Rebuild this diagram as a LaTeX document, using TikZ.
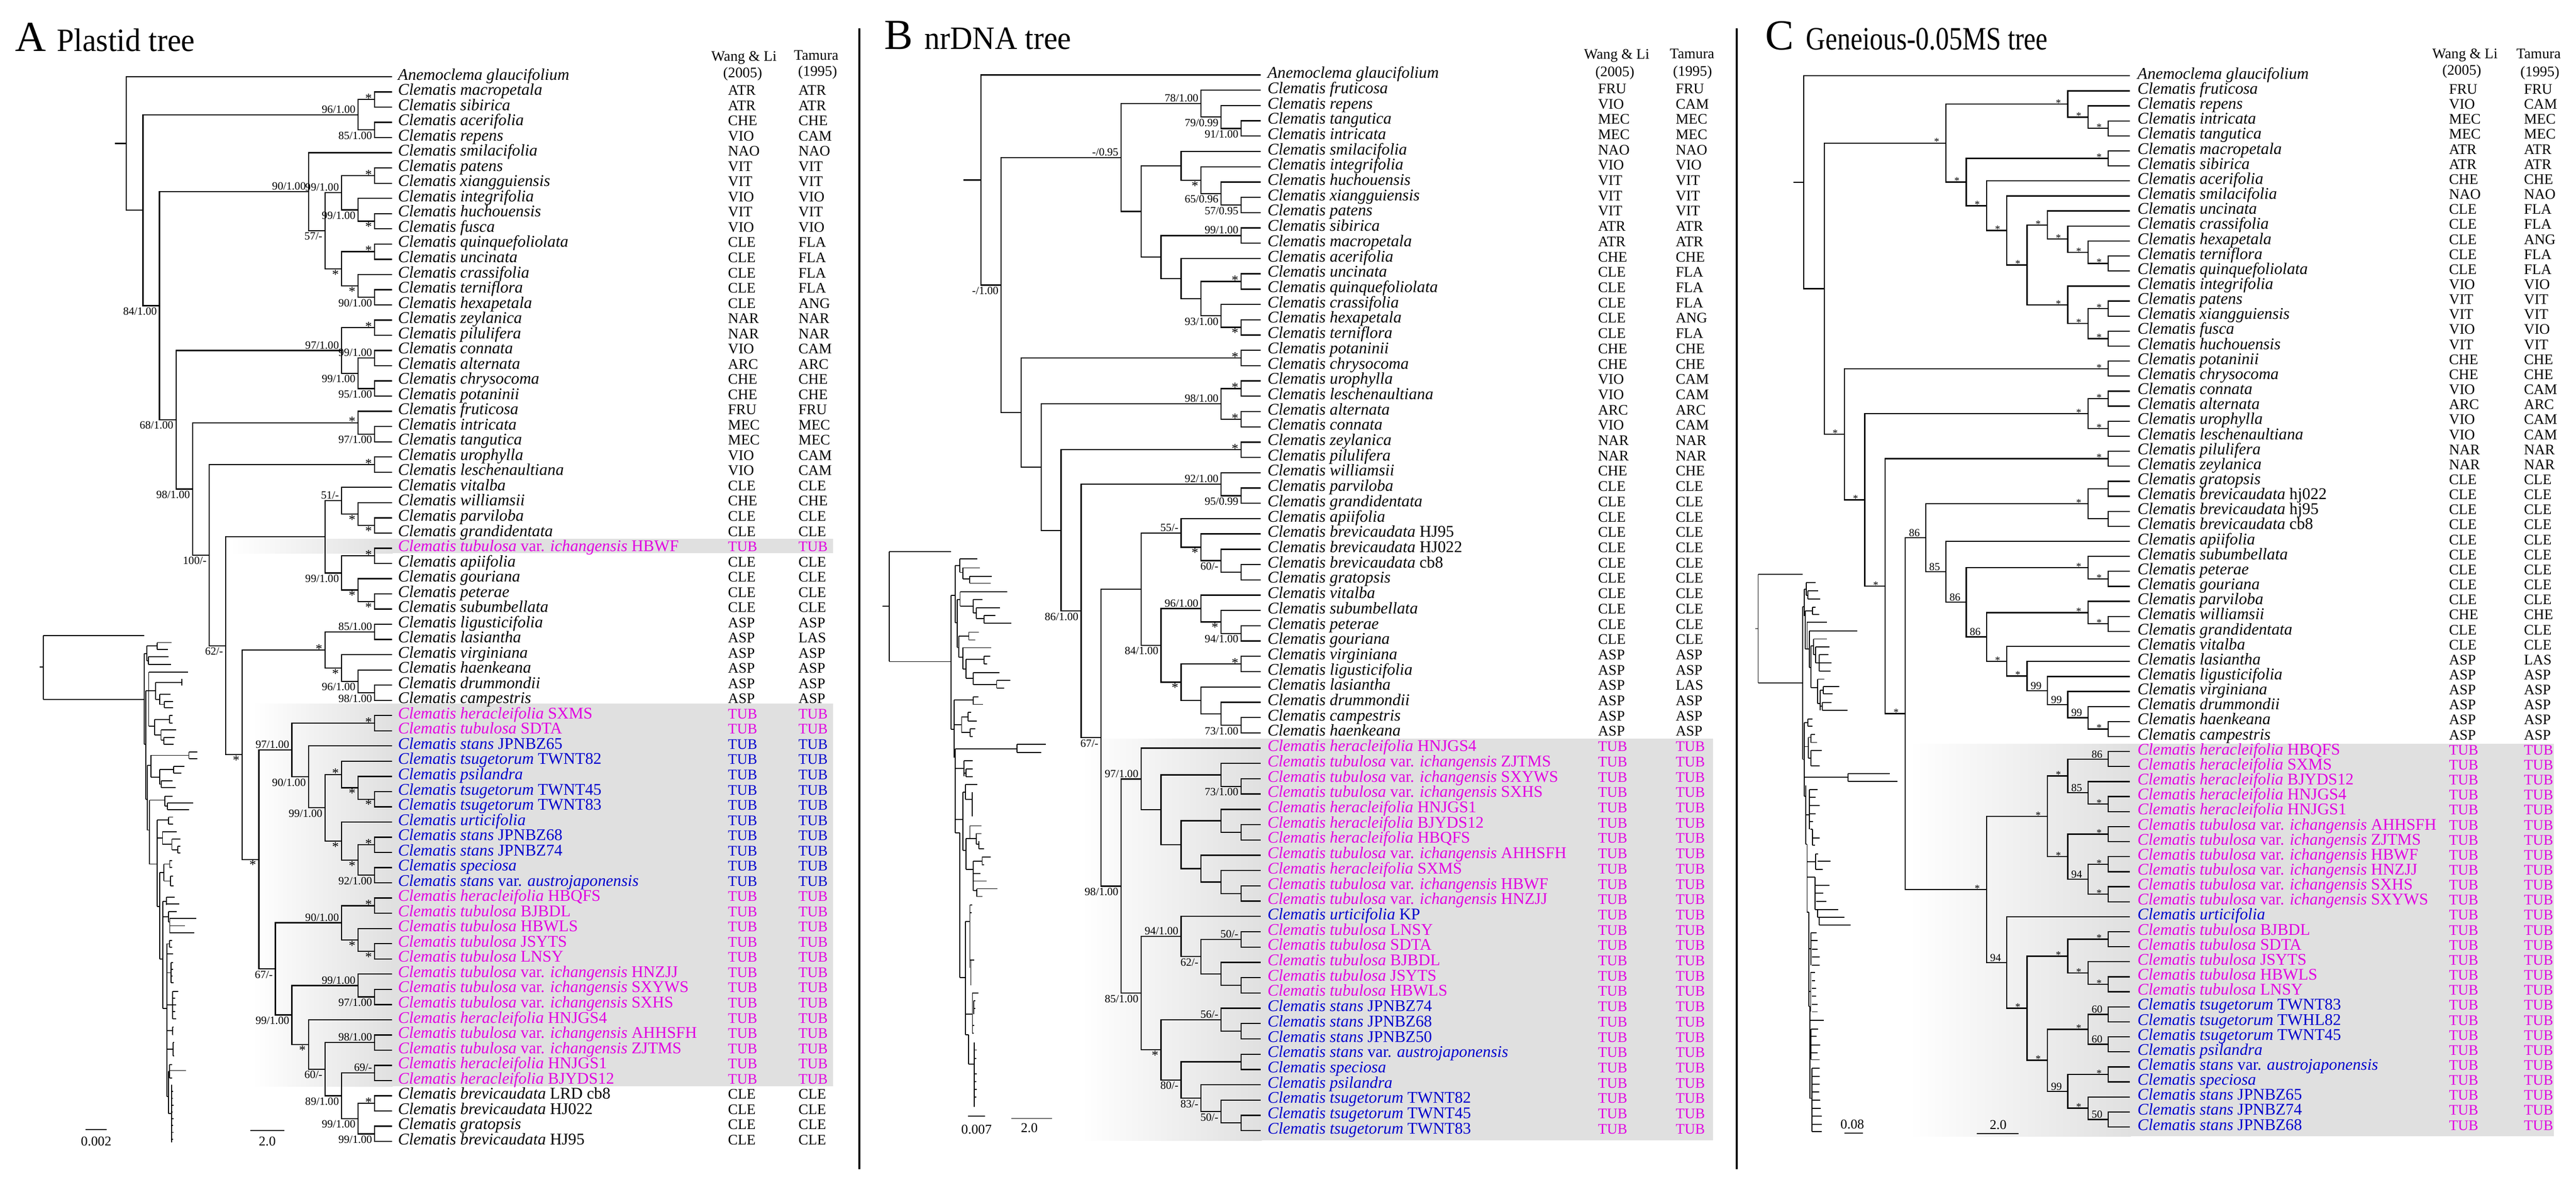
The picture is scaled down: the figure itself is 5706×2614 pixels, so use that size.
\documentclass[tikz,border=0pt]{standalone}
\usepackage{fontspec}
\setmainfont{Liberation Serif}
\newfontfamily\condC[FakeStretch=0.82]{Liberation Serif}
\newfontfamily\condA[FakeStretch=0.95]{Liberation Serif}
\usetikzlibrary{calc}
\definecolor{mag}{RGB}{225,0,225}
\definecolor{blu}{RGB}{0,0,205}
\definecolor{boxg}{RGB}{224,224,224}
\tikzset{
 br/.style={line width=0.75pt},
 pl/.style={line width=0.6pt},
 sp/.style={anchor=base west, inner sep=0pt, font=\fontsize{10.3}{12}\selectfont},
 cd/.style={anchor=base west, inner sep=0pt, font=\fontsize{9.2}{11}\selectfont},
 hd/.style={anchor=base, inner sep=0pt, font=\fontsize{9.2}{11}\selectfont},
 scl/.style={inner sep=0pt, font=\fontsize{8.5}{10}\selectfont},
 supp/.style={inner sep=0pt, font=\fontsize{7}{8}\selectfont},
 lsa/.style={supp, anchor=south east, xshift=-1.5pt, yshift=0.8pt},
 lsb/.style={supp, anchor=north east, xshift=-1.5pt, yshift=-1pt},
 laa/.style={supp, font=\fontsize{8.5}{9}\selectfont, anchor=south east, xshift=-1.5pt, yshift=-2.2pt},
 lab/.style={supp, font=\fontsize{8.5}{9}\selectfont, anchor=north east, xshift=-1.5pt, yshift=-0.5pt},
 lca/.style={supp, font=\fontsize{6.5}{7}\selectfont, anchor=south east, xshift=-4pt, yshift=-1.6pt},
 lcs/.style={supp, font=\fontsize{6.8}{7}\selectfont, anchor=south east, xshift=-3.5pt, yshift=0.6pt},
 lnn/.style={inner sep=0pt},
}
\newcommand\Cl[1]{\textit{Clematis #1}}
\newcommand\Tvi[1]{\textit{Clematis tubulosa} var. \textit{ichangensis} #1}
\newcommand\Her[1]{\textit{Clematis heracleifolia} #1}
\newcommand\Tub[1]{\textit{Clematis tubulosa} #1}
\newcommand\Tsu[1]{\textit{Clematis tsugetorum} #1}
\newcommand\Sta[1]{\textit{Clematis stans} #1}
\newcommand\Brv[1]{\textit{Clematis brevicaudata} #1}
\newcommand\Aus{\textit{Clematis stans} var. \textit{austrojaponensis}}
\newcommand\Ane{\textit{Anemoclema glaucifolium}}
\newcommand\lf[7]{%
 \coordinate (#1) at (\Lx,{\Ry+(#2-1)*\Rs});%
 \node[sp,text=#3] (#1t) at (\Tx,{\Ry+(#2-1)*\Rs+7}) {#4};%
 \node[cd,text=#7] (#1w) at (\Wx,{\Ry+(#2-1)*\Rs+7}) {#5};%
 \node[cd,text=#7] (#1m) at (\Mx,{\Ry+(#2-1)*\Rs+7}) {#6};%
}
\newcommand\LK[5]{\lf{#1}{#2}{black}{#3}{#4}{#5}{black}}
\newcommand\LM[3]{\lf{#1}{#2}{mag}{#3}{TUB}{TUB}{mag}}
\newcommand\LB[3]{\lf{#1}{#2}{blu}{#3}{TUB}{TUB}{blu}}
\newcommand\LX[3]{\lf{#1}{#2}{blu}{#3}{TUB}{TUB}{mag}}
\newcommand\nd[6]{%
 \path let \p1=(#3), \p2=(#4) in coordinate (#1) at ({(\Xb-(#2-1)*\Xs)*0.01cm},{0.5*\y1+0.5*\y2});%
 \draw[br] (#3) -| (#1) |- (#4);%
 \node[#5] (#1l) at (#1) {#6};%
}
\begin{document}
\begin{tikzpicture}[x=0.01cm,y=-0.01cm]
\fill[white] (0,0) rectangle (5706,2614);
\useasboundingbox (0,0) rectangle (5706,2614);
% ---------- grey boxes ----------
\shade[left color=white,right color=boxg] (510,1194) rectangle (870,1226);
\fill[boxg] (869,1194) rectangle (1845,1226);
\shade[left color=white,right color=boxg] (561,1559) rectangle (870,2407);
\fill[boxg] (869,1559) rectangle (1845,2407);
\shade[left color=white,right color=boxg] (2397,1637) rectangle (2795,2527);
\fill[boxg] (2794,1637) rectangle (3794,2527);
\shade[left color=white,right color=boxg] (4229,1648) rectangle (4720,2518);
\fill[boxg] (4719,1648) rectangle (5657,2518);
% ---------- separators ----------
\draw[line width=1.3pt] (1904,63) -- (1904,2590);
\draw[line width=1.3pt] (3847,63) -- (3847,2590);
% ---------- titles ----------
\node[anchor=base west,inner sep=0pt,font=\fontsize{27}{30}\selectfont] (tA) at (33,114) {A};
\node[anchor=base west,inner sep=0pt,font=\condA\fontsize{20.5}{24}\selectfont] (tAn) at (125,114) {Plastid tree};
\node[anchor=base west,inner sep=0pt,font=\fontsize{27}{30}\selectfont] (tB) at (1958,109) {B};
\node[anchor=base west,inner sep=0pt,font=\condA\fontsize{20.5}{24}\selectfont] (tBn) at (2047,109) {nrDNA tree};
\node[anchor=base west,inner sep=0pt,font=\fontsize{27}{30}\selectfont] (tC) at (3909,110) {C};
\node[anchor=base west,inner sep=0pt,font=\condC\fontsize{20.5}{24}\selectfont] (tCn) at (4000,110) {Geneious-0.05MS tree};
% headers
\node[hd] (hA1) at (1648,135) {Wang \& Li};
\node[hd] (hA2) at (1645,172) {(2005)};
\node[hd] (hA3) at (1808,133) {Tamura};
\node[hd] (hA4) at (1811,168) {(1995)};
\node[hd] (hB1) at (3581,131) {Wang \& Li};
\node[hd] (hB2) at (3577,170) {(2005)};
\node[hd] (hB3) at (3748,130) {Tamura};
\node[hd] (hB4) at (3749,168) {(1995)};
\node[hd] (hC1) at (5460,130) {Wang \& Li};
\node[hd] (hC2) at (5453,166) {(2005)};
\node[hd] (hC3) at (5623,130) {Tamura};
\node[hd] (hC4) at (5626,170) {(1995)};
% =================== PANEL A ===================
\def\Ry{170}\def\Rs{33.7}\def\Lx{869}\def\Tx{881}\def\Wx{1612}\def\Mx{1768}\def\Xb{830}\def\Xs{36.67}
\LK{A1}{1}{\Ane}{}{}
\LK{A2}{2}{\Cl{macropetala}}{ATR}{ATR}
\LK{A3}{3}{\Cl{sibirica}}{ATR}{ATR}
\LK{A4}{4}{\Cl{acerifolia}}{CHE}{CHE}
\LK{A5}{5}{\Cl{repens}}{VIO}{CAM}
\LK{A6}{6}{\Cl{smilacifolia}}{NAO}{NAO}
\LK{A7}{7}{\Cl{patens}}{VIT}{VIT}
\LK{A8}{8}{\Cl{xiangguiensis}}{VIT}{VIT}
\LK{A9}{9}{\Cl{integrifolia}}{VIO}{VIO}
\LK{A10}{10}{\Cl{huchouensis}}{VIT}{VIT}
\LK{A11}{11}{\Cl{fusca}}{VIO}{VIO}
\LK{A12}{12}{\Cl{quinquefoliolata}}{CLE}{FLA}
\LK{A13}{13}{\Cl{uncinata}}{CLE}{FLA}
\LK{A14}{14}{\Cl{crassifolia}}{CLE}{FLA}
\LK{A15}{15}{\Cl{terniflora}}{CLE}{FLA}
\LK{A16}{16}{\Cl{hexapetala}}{CLE}{ANG}
\LK{A17}{17}{\Cl{zeylanica}}{NAR}{NAR}
\LK{A18}{18}{\Cl{pilulifera}}{NAR}{NAR}
\LK{A19}{19}{\Cl{connata}}{VIO}{CAM}
\LK{A20}{20}{\Cl{alternata}}{ARC}{ARC}
\LK{A21}{21}{\Cl{chrysocoma}}{CHE}{CHE}
\LK{A22}{22}{\Cl{potaninii}}{CHE}{CHE}
\LK{A23}{23}{\Cl{fruticosa}}{FRU}{FRU}
\LK{A24}{24}{\Cl{intricata}}{MEC}{MEC}
\LK{A25}{25}{\Cl{tangutica}}{MEC}{MEC}
\LK{A26}{26}{\Cl{urophylla}}{VIO}{CAM}
\LK{A27}{27}{\Cl{leschenaultiana}}{VIO}{CAM}
\LK{A28}{28}{\Cl{vitalba}}{CLE}{CLE}
\LK{A29}{29}{\Cl{williamsii}}{CHE}{CHE}
\LK{A30}{30}{\Cl{parviloba}}{CLE}{CLE}
\LK{A31}{31}{\Cl{grandidentata}}{CLE}{CLE}
\LM{A32}{32}{\Tvi{HBWF}}
\LK{A33}{33}{\Cl{apiifolia}}{CLE}{CLE}
\LK{A34}{34}{\Cl{gouriana}}{CLE}{CLE}
\LK{A35}{35}{\Cl{peterae}}{CLE}{CLE}
\LK{A36}{36}{\Cl{subumbellata}}{CLE}{CLE}
\LK{A37}{37}{\Cl{ligusticifolia}}{ASP}{ASP}
\LK{A38}{38}{\Cl{lasiantha}}{ASP}{LAS}
\LK{A39}{39}{\Cl{virginiana}}{ASP}{ASP}
\LK{A40}{40}{\Cl{haenkeana}}{ASP}{ASP}
\LK{A41}{41}{\Cl{drummondii}}{ASP}{ASP}
\LK{A42}{42}{\Cl{campestris}}{ASP}{ASP}
\LM{A43}{43}{\Her{SXMS}}
\LM{A44}{44}{\Tub{SDTA}}
\LB{A45}{45}{\Sta{JPNBZ65}}
\LB{A46}{46}{\Tsu{TWNT82}}
\LB{A47}{47}{\Cl{psilandra}}
\LB{A48}{48}{\Tsu{TWNT45}}
\LB{A49}{49}{\Tsu{TWNT83}}
\LB{A50}{50}{\Cl{urticifolia}}
\LB{A51}{51}{\Sta{JPNBZ68}}
\LB{A52}{52}{\Sta{JPNBZ74}}
\LB{A53}{53}{\Cl{speciosa}}
\LB{A54}{54}{\Aus}
\LM{A55}{55}{\Her{HBQFS}}
\LM{A56}{56}{\Tub{BJBDL}}
\LM{A57}{57}{\Tub{HBWLS}}
\LM{A58}{58}{\Tub{JSYTS}}
\LM{A59}{59}{\Tub{LNSY}}
\LM{A60}{60}{\Tvi{HNZJJ}}
\LM{A61}{61}{\Tvi{SXYWS}}
\LM{A62}{62}{\Tvi{SXHS}}
\LM{A63}{63}{\Her{HNJGS4}}
\LM{A64}{64}{\Tvi{AHHSFH}}
\LM{A65}{65}{\Tvi{ZJTMS}}
\LM{A66}{66}{\Her{HNJGS1}}
\LM{A67}{67}{\Her{BJYDS12}}
\LK{A68}{68}{\Brv{LRD cb8}}{CLE}{CLE}
\LK{A69}{69}{\Brv{HJ022}}{CLE}{CLE}
\LK{A70}{70}{\Cl{gratopsis}}{CLE}{CLE}
\LK{A71}{71}{\Brv{HJ95}}{CLE}{CLE}
\nd{a1}{1}{A2}{A3}{laa}{*}
\nd{a2}{1}{A4}{A5}{lsb}{85/1.00}
\nd{a3}{2}{a1}{a2}{lsa}{96/1.00}
\nd{a4}{1}{A7}{A8}{laa}{*}
\nd{a5}{1}{A10}{A11}{lab}{*}
\nd{a6}{2}{A9}{a5}{lsb}{99/1.00}
\nd{a7}{3}{a4}{a6}{lsa}{99/1.00}
\nd{a8}{1}{A12}{A13}{laa}{*}
\nd{a9}{1}{A15}{A16}{lsb}{90/1.00}
\nd{a10}{2}{A14}{a9}{lab}{*}
\nd{a11}{3}{a8}{a10}{lab}{*}
\nd{a12}{4}{a7}{a11}{lsb}{57/-}
\nd{a13}{5}{A6}{a12}{lsa}{90/1.00}
\nd{a14}{1}{A17}{A18}{laa}{*}
\nd{a15}{1}{A19}{A20}{lsa}{99/1.00}
\nd{a16}{1}{A21}{A22}{lsb}{95/1.00}
\nd{a17}{2}{a15}{a16}{lsb}{99/1.00}
\nd{a18}{3}{a14}{a17}{lsa}{97/1.00}
\nd{a19}{1}{A24}{A25}{lsb}{97/1.00}
\nd{a20}{2}{A23}{a19}{laa}{*}
\nd{a21}{1}{A26}{A27}{laa}{*}
\nd{a22}{1}{A30}{A31}{lab}{*}
\nd{a23}{2}{A29}{a22}{lab}{*}
\nd{a24}{3}{A28}{a23}{lsa}{51/-}
\nd{a25}{1}{A32}{A33}{laa}{*}
\nd{a26}{1}{A35}{A36}{lab}{*}
\nd{a27}{2}{A34}{a26}{lab}{*}
\nd{a28}{3}{a25}{a27}{lsb}{99/1.00}
\nd{a29}{4}{a24}{a28}{lnn}{}
\nd{a30}{1}{A37}{A38}{lsa}{85/1.00}
\nd{a31}{1}{A41}{A42}{lsb}{98/1.00}
\nd{a32}{2}{A40}{a31}{lsb}{96/1.00}
\nd{a33}{3}{A39}{a32}{lab}{*}
\nd{a34}{4}{a30}{a33}{laa}{*}
\nd{a35}{1}{A43}{A44}{laa}{*}
\nd{a36}{1}{A48}{A49}{lab}{*}
\nd{a37}{2}{A47}{a36}{lab}{*}
\nd{a38}{3}{A46}{a37}{laa}{*}
\nd{a39}{1}{A51}{A52}{laa}{*}
\nd{a40}{1}{A53}{A54}{lsb}{92/1.00}
\nd{a41}{2}{a39}{a40}{lab}{*}
\nd{a42}{3}{A50}{a41}{lab}{*}
\nd{a43}{4}{a38}{a42}{lsb}{99/1.00}
\nd{a44}{5}{A45}{a43}{lsb}{90/1.00}
\nd{a45}{6}{a35}{a44}{lsa}{97/1.00}
\nd{a46}{1}{A55}{A56}{laa}{*}
\nd{a47}{1}{A58}{A59}{lab}{*}
\nd{a48}{2}{A57}{a47}{lab}{*}
\nd{a49}{3}{a46}{a48}{lsa}{90/1.00}
\nd{a50}{1}{A61}{A62}{lsb}{97/1.00}
\nd{a51}{2}{A60}{a50}{lsa}{99/1.00}
\nd{a52}{1}{A64}{A65}{lsa}{98/1.00}
\nd{a53}{1}{A66}{A67}{lsa}{69/-}
\nd{a54}{1}{A68}{A69}{laa}{*}
\nd{a55}{1}{A70}{A71}{lsb}{99/1.00}
\nd{a56}{2}{a54}{a55}{lsb}{99/1.00}
\nd{a57}{3}{a53}{a56}{lsb}{89/1.00}
\nd{a58}{4}{a52}{a57}{lsb}{60/-}
\nd{a59}{5}{A63}{a58}{lab}{*}
\nd{a60}{6}{a51}{a59}{lsb}{99/1.00}
\nd{a61}{7}{a49}{a60}{lsb}{67/-}
\nd{a62}{8}{a45}{a61}{lab}{*}
\nd{a63}{9}{a34}{a62}{lab}{*}
\nd{a64}{10}{a29}{a63}{lsb}{62/-}
\nd{a65}{11}{a21}{a64}{lsb}{100/-}
\nd{a66}{12}{a20}{a65}{lsb}{98/1.00}
\nd{a67}{13}{a18}{a66}{lsb}{68/1.00}
\nd{a68}{14}{a13}{a67}{lsb}{84/1.00}
\nd{a69}{15}{a3}{a68}{lnn}{}
\nd{aR}{16}{A1}{a69}{lnn}{}
\coordinate (aRs) at ($(aR)+(-26,0)$);
\draw[br] (aR) -- (aRs);
% =================== PANEL B ===================
\def\Ry{166}\def\Rs{33.9}\def\Lx{2792}\def\Tx{2807}\def\Wx{3539}\def\Mx{3711}\def\Xb{2749}\def\Xs{44.3}
\LK{B1}{1}{\Ane}{}{}
\LK{B2}{2}{\Cl{fruticosa}}{FRU}{FRU}
\LK{B3}{3}{\Cl{repens}}{VIO}{CAM}
\LK{B4}{4}{\Cl{tangutica}}{MEC}{MEC}
\LK{B5}{5}{\Cl{intricata}}{MEC}{MEC}
\LK{B6}{6}{\Cl{smilacifolia}}{NAO}{NAO}
\LK{B7}{7}{\Cl{integrifolia}}{VIO}{VIO}
\LK{B8}{8}{\Cl{huchouensis}}{VIT}{VIT}
\LK{B9}{9}{\Cl{xiangguiensis}}{VIT}{VIT}
\LK{B10}{10}{\Cl{patens}}{VIT}{VIT}
\LK{B11}{11}{\Cl{sibirica}}{ATR}{ATR}
\LK{B12}{12}{\Cl{macropetala}}{ATR}{ATR}
\LK{B13}{13}{\Cl{acerifolia}}{CHE}{CHE}
\LK{B14}{14}{\Cl{uncinata}}{CLE}{FLA}
\LK{B15}{15}{\Cl{quinquefoliolata}}{CLE}{FLA}
\LK{B16}{16}{\Cl{crassifolia}}{CLE}{FLA}
\LK{B17}{17}{\Cl{hexapetala}}{CLE}{ANG}
\LK{B18}{18}{\Cl{terniflora}}{CLE}{FLA}
\LK{B19}{19}{\Cl{potaninii}}{CHE}{CHE}
\LK{B20}{20}{\Cl{chrysocoma}}{CHE}{CHE}
\LK{B21}{21}{\Cl{urophylla}}{VIO}{CAM}
\LK{B22}{22}{\Cl{leschenaultiana}}{VIO}{CAM}
\LK{B23}{23}{\Cl{alternata}}{ARC}{ARC}
\LK{B24}{24}{\Cl{connata}}{VIO}{CAM}
\LK{B25}{25}{\Cl{zeylanica}}{NAR}{NAR}
\LK{B26}{26}{\Cl{pilulifera}}{NAR}{NAR}
\LK{B27}{27}{\Cl{williamsii}}{CHE}{CHE}
\LK{B28}{28}{\Cl{parviloba}}{CLE}{CLE}
\LK{B29}{29}{\Cl{grandidentata}}{CLE}{CLE}
\LK{B30}{30}{\Cl{apiifolia}}{CLE}{CLE}
\LK{B31}{31}{\Brv{HJ95}}{CLE}{CLE}
\LK{B32}{32}{\Brv{HJ022}}{CLE}{CLE}
\LK{B33}{33}{\Brv{cb8}}{CLE}{CLE}
\LK{B34}{34}{\Cl{gratopsis}}{CLE}{CLE}
\LK{B35}{35}{\Cl{vitalba}}{CLE}{CLE}
\LK{B36}{36}{\Cl{subumbellata}}{CLE}{CLE}
\LK{B37}{37}{\Cl{peterae}}{CLE}{CLE}
\LK{B38}{38}{\Cl{gouriana}}{CLE}{CLE}
\LK{B39}{39}{\Cl{virginiana}}{ASP}{ASP}
\LK{B40}{40}{\Cl{ligusticifolia}}{ASP}{ASP}
\LK{B41}{41}{\Cl{lasiantha}}{ASP}{LAS}
\LK{B42}{42}{\Cl{drummondii}}{ASP}{ASP}
\LK{B43}{43}{\Cl{campestris}}{ASP}{ASP}
\LK{B44}{44}{\Cl{haenkeana}}{ASP}{ASP}
\LM{B45}{45}{\Her{HNJGS4}}
\LM{B46}{46}{\Tvi{ZJTMS}}
\LM{B47}{47}{\Tvi{SXYWS}}
\LM{B48}{48}{\Tvi{SXHS}}
\LM{B49}{49}{\Her{HNJGS1}}
\LM{B50}{50}{\Her{BJYDS12}}
\LM{B51}{51}{\Her{HBQFS}}
\LM{B52}{52}{\Tvi{AHHSFH}}
\LM{B53}{53}{\Her{SXMS}}
\LM{B54}{54}{\Tvi{HBWF}}
\LM{B55}{55}{\Tvi{HNZJJ}}
\LX{B56}{56}{\Cl{urticifolia} KP}
\LM{B57}{57}{\Tub{LNSY}}
\LM{B58}{58}{\Tub{SDTA}}
\LM{B59}{59}{\Tub{BJBDL}}
\LM{B60}{60}{\Tub{JSYTS}}
\LM{B61}{61}{\Tub{HBWLS}}
\LX{B62}{62}{\Sta{JPNBZ74}}
\LX{B63}{63}{\Sta{JPNBZ68}}
\LX{B64}{64}{\Sta{JPNBZ50}}
\LX{B65}{65}{\Aus}
\LX{B66}{66}{\Cl{speciosa}}
\LX{B67}{67}{\Cl{psilandra}}
\LX{B68}{68}{\Tsu{TWNT82}}
\LX{B69}{69}{\Tsu{TWNT45}}
\LX{B70}{70}{\Tsu{TWNT83}}
\nd{b1}{1}{B4}{B5}{lsb}{91/1.00}
\nd{b2}{2}{B3}{b1}{lsb}{79/0.99}
\nd{b3}{3}{B2}{b2}{lsa}{78/1.00}
\nd{b4}{1}{B9}{B10}{lsb}{57/0.95}
\nd{b5}{2}{B8}{b4}{lsb}{65/0.96}
\nd{b6}{3}{B7}{b5}{lab}{*}
\nd{b7}{4}{B6}{b6}{lnn}{}
\nd{b8}{1}{B11}{B12}{lsa}{99/1.00}
\nd{b9}{1}{B14}{B15}{laa}{*}
\nd{b10}{1}{B17}{B18}{lab}{*}
\nd{b11}{2}{B16}{b10}{lsb}{93/1.00}
\nd{b12}{3}{b9}{b11}{lnn}{}
\nd{b13}{4}{B13}{b12}{lnn}{}
\nd{b14}{5}{b8}{b13}{lnn}{}
\nd{b15}{6}{b7}{b14}{lnn}{}
\nd{b16}{7}{b3}{b15}{lsa}{-/0.95}
\nd{b17}{1}{B19}{B20}{laa}{*}
\nd{b18}{1}{B21}{B22}{laa}{*}
\nd{b19}{1}{B23}{B24}{laa}{*}
\nd{b20}{2}{b18}{b19}{lsa}{98/1.00}
\nd{b21}{1}{B25}{B26}{laa}{*}
\nd{b22}{1}{B28}{B29}{lsb}{95/0.99}
\nd{b23}{2}{B27}{b22}{lsa}{92/1.00}
\nd{b24}{1}{B33}{B34}{lnn}{}
\nd{b25}{2}{B32}{b24}{lsb}{60/-}
\nd{b26}{3}{B31}{b25}{lab}{*}
\nd{b27}{4}{B30}{b26}{lsa}{55/-}
\nd{b28}{1}{B37}{B38}{lsb}{94/1.00}
\nd{b29}{2}{B36}{b28}{lab}{*}
\nd{b30}{3}{B35}{b29}{lsa}{96/1.00}
\nd{b31}{1}{B39}{B40}{laa}{*}
\nd{b32}{1}{B43}{B44}{lsb}{73/1.00}
\nd{b33}{2}{B42}{b32}{lnn}{}
\nd{b34}{3}{B41}{b33}{lnn}{}
\nd{b35}{4}{b31}{b34}{lab}{*}
\nd{b36}{5}{b30}{b35}{lsb}{84/1.00}
\nd{b37}{6}{b27}{b36}{lnn}{}
\nd{b38}{1}{B47}{B48}{lsb}{73/1.00}
\nd{b39}{2}{B46}{b38}{lnn}{}
\nd{b40}{1}{B50}{B51}{lnn}{}
\nd{b41}{2}{B49}{b40}{lnn}{}
\nd{b42}{1}{B54}{B55}{lnn}{}
\nd{b43}{2}{B53}{b42}{lnn}{}
\nd{b44}{3}{B52}{b43}{lnn}{}
\nd{b45}{4}{b41}{b44}{lnn}{}
\nd{b46}{5}{b39}{b45}{lnn}{}
\nd{b47}{6}{B45}{b46}{lsa}{97/1.00}
\nd{b48}{1}{B57}{B58}{lsa}{50/-}
\nd{b49}{1}{B60}{B61}{lnn}{}
\nd{b50}{2}{B59}{b49}{lnn}{}
\nd{b51}{3}{b48}{b50}{lsb}{62/-}
\nd{b52}{4}{B56}{b51}{lsa}{94/1.00}
\nd{b53}{1}{B63}{B64}{lnn}{}
\nd{b54}{2}{B62}{b53}{lsa}{56/-}
\nd{b55}{1}{B65}{B66}{lnn}{}
\nd{b56}{1}{B69}{B70}{lnn}{}
\nd{b57}{2}{B68}{b56}{lsb}{50/-}
\nd{b58}{3}{B67}{b57}{lsb}{83/-}
\nd{b59}{4}{b55}{b58}{lsb}{80/-}
\nd{b60}{5}{b54}{b59}{lab}{*}
\nd{b61}{6}{b52}{b60}{lsb}{85/1.00}
\nd{b62}{7}{b47}{b61}{lsb}{98/1.00}
\nd{b63}{8}{b37}{b62}{lsb}{67/-}
\nd{b64}{9}{b23}{b63}{lsb}{86/1.00}
\nd{b65}{10}{b21}{b64}{lnn}{}
\nd{b66}{11}{b20}{b65}{lnn}{}
\nd{b67}{12}{b17}{b66}{lnn}{}
\nd{b68}{13}{b16}{b67}{lsb}{-/1.00}
\nd{bR}{14}{B1}{b68}{lnn}{}
\coordinate (bRs) at ($(bR)+(-39,0)$);
\draw[br] (bR) -- (bRs);
% =================== PANEL C ===================
\def\Ry{168}\def\Rs{33.27}\def\Lx{4718}\def\Tx{4734}\def\Wx{5424}\def\Mx{5590}\def\Xb{4670}\def\Xs{44.96}
\LK{C1}{1}{\Ane}{}{}
\LK{C2}{2}{\Cl{fruticosa}}{FRU}{FRU}
\LK{C3}{3}{\Cl{repens}}{VIO}{CAM}
\LK{C4}{4}{\Cl{intricata}}{MEC}{MEC}
\LK{C5}{5}{\Cl{tangutica}}{MEC}{MEC}
\LK{C6}{6}{\Cl{macropetala}}{ATR}{ATR}
\LK{C7}{7}{\Cl{sibirica}}{ATR}{ATR}
\LK{C8}{8}{\Cl{acerifolia}}{CHE}{CHE}
\LK{C9}{9}{\Cl{smilacifolia}}{NAO}{NAO}
\LK{C10}{10}{\Cl{uncinata}}{CLE}{FLA}
\LK{C11}{11}{\Cl{crassifolia}}{CLE}{FLA}
\LK{C12}{12}{\Cl{hexapetala}}{CLE}{ANG}
\LK{C13}{13}{\Cl{terniflora}}{CLE}{FLA}
\LK{C14}{14}{\Cl{quinquefoliolata}}{CLE}{FLA}
\LK{C15}{15}{\Cl{integrifolia}}{VIO}{VIO}
\LK{C16}{16}{\Cl{patens}}{VIT}{VIT}
\LK{C17}{17}{\Cl{xiangguiensis}}{VIT}{VIT}
\LK{C18}{18}{\Cl{fusca}}{VIO}{VIO}
\LK{C19}{19}{\Cl{huchouensis}}{VIT}{VIT}
\LK{C20}{20}{\Cl{potaninii}}{CHE}{CHE}
\LK{C21}{21}{\Cl{chrysocoma}}{CHE}{CHE}
\LK{C22}{22}{\Cl{connata}}{VIO}{CAM}
\LK{C23}{23}{\Cl{alternata}}{ARC}{ARC}
\LK{C24}{24}{\Cl{urophylla}}{VIO}{CAM}
\LK{C25}{25}{\Cl{leschenaultiana}}{VIO}{CAM}
\LK{C26}{26}{\Cl{pilulifera}}{NAR}{NAR}
\LK{C27}{27}{\Cl{zeylanica}}{NAR}{NAR}
\LK{C28}{28}{\Cl{gratopsis}}{CLE}{CLE}
\LK{C29}{29}{\Brv{hj022}}{CLE}{CLE}
\LK{C30}{30}{\Brv{hj95}}{CLE}{CLE}
\LK{C31}{31}{\Brv{cb8}}{CLE}{CLE}
\LK{C32}{32}{\Cl{apiifolia}}{CLE}{CLE}
\LK{C33}{33}{\Cl{subumbellata}}{CLE}{CLE}
\LK{C34}{34}{\Cl{peterae}}{CLE}{CLE}
\LK{C35}{35}{\Cl{gouriana}}{CLE}{CLE}
\LK{C36}{36}{\Cl{parviloba}}{CLE}{CLE}
\LK{C37}{37}{\Cl{williamsii}}{CHE}{CHE}
\LK{C38}{38}{\Cl{grandidentata}}{CLE}{CLE}
\LK{C39}{39}{\Cl{vitalba}}{CLE}{CLE}
\LK{C40}{40}{\Cl{lasiantha}}{ASP}{LAS}
\LK{C41}{41}{\Cl{ligusticifolia}}{ASP}{ASP}
\LK{C42}{42}{\Cl{virginiana}}{ASP}{ASP}
\LK{C43}{43}{\Cl{drummondii}}{ASP}{ASP}
\LK{C44}{44}{\Cl{haenkeana}}{ASP}{ASP}
\LK{C45}{45}{\Cl{campestris}}{ASP}{ASP}
\LM{C46}{46}{\Her{HBQFS}}
\LM{C47}{47}{\Her{SXMS}}
\LM{C48}{48}{\Her{BJYDS12}}
\LM{C49}{49}{\Her{HNJGS4}}
\LM{C50}{50}{\Her{HNJGS1}}
\LM{C51}{51}{\Tvi{AHHSFH}}
\LM{C52}{52}{\Tvi{ZJTMS}}
\LM{C53}{53}{\Tvi{HBWF}}
\LM{C54}{54}{\Tvi{HNZJJ}}
\LM{C55}{55}{\Tvi{SXHS}}
\LM{C56}{56}{\Tvi{SXYWS}}
\LX{C57}{57}{\Cl{urticifolia}}
\LM{C58}{58}{\Tub{BJBDL}}
\LM{C59}{59}{\Tub{SDTA}}
\LM{C60}{60}{\Tub{JSYTS}}
\LM{C61}{61}{\Tub{HBWLS}}
\LM{C62}{62}{\Tub{LNSY}}
\LX{C63}{63}{\Tsu{TWNT83}}
\LX{C64}{64}{\Tsu{TWHL82}}
\LX{C65}{65}{\Tsu{TWNT45}}
\LX{C66}{66}{\Cl{psilandra}}
\LX{C67}{67}{\Aus}
\LX{C68}{68}{\Cl{speciosa}}
\LX{C69}{69}{\Sta{JPNBZ65}}
\LX{C70}{70}{\Sta{JPNBZ74}}
\LX{C71}{71}{\Sta{JPNBZ68}}
\nd{c1}{1}{C4}{C5}{lca}{*}
\nd{c2}{2}{C3}{c1}{lca}{*}
\nd{c3}{3}{C2}{c2}{lca}{*}
\nd{c4}{1}{C6}{C7}{lca}{*}
\nd{c5}{1}{C13}{C14}{lca}{*}
\nd{c6}{2}{C12}{c5}{lca}{*}
\nd{c7}{3}{C11}{c6}{lca}{*}
\nd{c8}{4}{C10}{c7}{lca}{*}
\nd{c9}{1}{C16}{C17}{lca}{*}
\nd{c10}{1}{C18}{C19}{lca}{*}
\nd{c11}{2}{c9}{c10}{lca}{*}
\nd{c12}{3}{C15}{c11}{lca}{*}
\nd{c13}{5}{c8}{c12}{lca}{*}
\nd{c14}{6}{C9}{c13}{lca}{*}
\nd{c15}{7}{C8}{c14}{lca}{*}
\nd{c16}{8}{c4}{c15}{lca}{*}
\nd{c17}{9}{c3}{c16}{lca}{*}
\nd{c18}{1}{C20}{C21}{lca}{*}
\nd{c19}{1}{C22}{C23}{lca}{*}
\nd{c20}{1}{C24}{C25}{lca}{*}
\nd{c21}{2}{c19}{c20}{lca}{*}
\nd{c22}{1}{C26}{C27}{lca}{*}
\nd{c23}{1}{C28}{C29}{lnn}{}
\nd{c24}{1}{C30}{C31}{lnn}{}
\nd{c25}{2}{c23}{c24}{lca}{*}
\nd{c26}{1}{C34}{C35}{lca}{*}
\nd{c27}{2}{C33}{c26}{lca}{*}
\nd{c29}{1}{C37}{C38}{lca}{*}
\nd{c30}{2}{C36}{c29}{lca}{*}
\nd{c31}{1}{C44}{C45}{lca}{*}
\nd{c32}{2}{C43}{c31}{lcs}{99}
\nd{c33}{3}{C42}{c32}{lcs}{99}
\nd{c34}{4}{C41}{c33}{lcs}{99}
\nd{c35}{5}{C40}{c34}{lca}{*}
\nd{c36}{6}{C39}{c35}{lca}{*}
\nd{c37}{7}{c30}{c36}{lcs}{86}
\nd{c38}{8}{c27}{c37}{lcs}{86}
\nd{c39}{9}{C32}{c38}{lcs}{85}
\nd{c40}{10}{c25}{c39}{lcs}{86}
\nd{c46}{1}{C46}{C47}{lcs}{86}
\nd{c47}{1}{C49}{C50}{lca}{*}
\nd{c48}{2}{C48}{c47}{lcs}{85}
\nd{c49}{3}{c46}{c48}{lca}{*}
\nd{c50}{1}{C51}{C52}{lca}{*}
\nd{c51}{1}{C53}{C54}{lca}{*}
\nd{c52}{1}{C55}{C56}{lca}{*}
\nd{c53}{2}{c51}{c52}{lcs}{94}
\nd{c54}{3}{c50}{c53}{lca}{*}
\nd{c55}{4}{c49}{c54}{lca}{*}
\nd{c56}{1}{C58}{C59}{lca}{*}
\nd{c57}{1}{C61}{C62}{lca}{*}
\nd{c58}{2}{C60}{c57}{lca}{*}
\nd{c59}{3}{c56}{c58}{lca}{*}
\nd{c60}{1}{C63}{C64}{lcs}{60}
\nd{c61}{1}{C65}{C66}{lcs}{60}
\nd{c62}{2}{c60}{c61}{lca}{*}
\nd{c63}{1}{C67}{C68}{lca}{*}
\nd{c64}{1}{C70}{C71}{lcs}{50}
\nd{c65}{2}{C69}{c64}{lca}{*}
\nd{c66}{3}{c63}{c65}{lcs}{99}
\nd{c67}{4}{c62}{c66}{lca}{*}
\nd{c68}{5}{c59}{c67}{lca}{*}
\nd{c69}{6}{C57}{c68}{lcs}{94}
\nd{c70}{7}{c55}{c69}{lca}{*}
\nd{c41}{11}{c40}{c70}{lca}{*}
\nd{c42}{12}{c22}{c41}{lca}{*}
\nd{c43}{13}{c21}{c42}{lca}{*}
\nd{c44}{14}{c18}{c43}{lca}{*}
\nd{c45}{15}{c17}{c44}{lnn}{}
\nd{cR}{16}{C1}{c45}{lnn}{}
\coordinate (cRs) at ($(cR)+(-23,0)$);
\draw[br] (cR) -- (cRs);
% =================== small phylograms ===================
\begin{scope}[shift={(60,1380)},xscale=0.3333,yscale=0.7526,pl]
\foreach \hy/\hx/\hz in {130/85/108, 38/108/780, 225/108/778, 90/778/795, 68/795/865, 58/865/960, 78/865/935, 112/795/805, 100/805/940, 123/805/957, 358/778/790, 200/790/808, 145/808/1070, 200/808/855, 175/855/1030, 225/855/880, 210/880/955, 240/880/912, 232/912/972, 250/912/972, 305/808/848, 285/848/945, 272/945/968, 295/945/968, 330/848/890, 315/890/990, 345/890/910, 338/910/980, 358/910/975, 520/790/800, 420/800/822, 390/822/1075, 380/1075/1130, 400/1075/1130, 455/822/882, 432/882/975, 422/975/1045, 442/975/1025, 475/882/892, 465/892/968, 485/892/988, 610/800/812, 522/812/915, 510/915/968, 540/915/932, 530/932/1105, 550/932/1075, 710/812/865, 580/865/940, 572/940/970, 592/940/970, 633/865/900, 615/900/995, 652/900/962, 637/962/1020, 668/962/1000, 658/1000/1018, 678/1000/1018, 835/865/882, 735/882/910, 710/910/948, 700/948/965, 720/948/965, 760/910/952, 745/952/970, 775/952/975, 990/882/903, 820/903/925, 808/925/980, 828/925/1012, 865/903/940, 850/940/995, 880/940/948, 870/948/1125, 892/948/1050, 912/948/1110, 1135/903/928, 945/928/945, 935/945/962, 955/945/962, 975/928/972, 1030/928/958, 1000/958/970, 1020/958/972, 1040/958/968, 1060/958/975, 1125/928/968, 1085/968/1005, 1105/968/985, 1125/968/990, 1145/968/985, 1165/968/990, 1200/928/968, 1190/968/975, 1212/968/972, 1255/928/970, 1235/970/978, 1275/970/978, 1395/928/940, 1320/940/945, 1300/945/965, 1318/945/1055, 1340/945/965, 1445/940/960, 1380/960/972, 1400/960/970, 1420/960/975, 1440/960/968, 1460/960/975, 1480/960/972, 1500/960/975, 1520/960/972}
  \draw (\hx,\hy) -- (\hz,\hy);
\foreach \vx/\vy/\vz in {108/38/225, 778/90/358, 795/68/112, 865/58/78, 805/100/123, 790/200/520, 808/145/305, 855/175/225, 1030/165/185, 880/210/240, 912/232/250, 848/285/330, 945/272/295, 890/315/345, 910/338/358, 800/420/610, 822/390/455, 1075/380/400, 882/432/475, 975/422/442, 892/465/485, 915/510/540, 932/530/550, 812/522/710, 865/580/835, 940/572/592, 900/615/652, 962/637/668, 1000/658/678, 882/735/990, 910/710/760, 948/700/720, 952/745/775, 903/820/1135, 925/808/830, 940/850/880, 948/870/912, 928/945/1395, 945/935/955, 958/1000/1060, 968/1085/1165, 968/1190/1212, 970/1235/1275, 945/1300/1340, 940/1320/1445, 960/1360/1530}
  \draw (\vx,\vy) -- (\vx,\vz);
\end{scope}
\begin{scope}[shift={(1950,1200)},xscale=0.3333,yscale=0.8546,pl]
\foreach \hy/\hx/\hz in {168/15/58, 26/58/470, 311/58/470, 140/470/498, 62/498/528, 45/528/645, 80/528/548, 68/548/660, 97/548/592, 90/592/742, 108/592/735, 210/498/512, 150/512/530, 130/530/843, 168/530/618, 150/618/678, 185/618/637, 172/637/795, 200/637/688, 192/688/765, 212/688/872, 275/512/520, 245/520/588, 235/588/655, 255/588/630, 300/520/548, 275/548/738, 330/548/570, 305/570/688, 297/688/730, 317/688/708, 355/570/618, 340/618/793, 370/618/773, 360/773/862, 380/773/822, 487/470/490, 410/490/617, 402/617/650, 422/617/683, 475/490/540, 455/540/582, 443/582/605, 465/582/640, 495/540/597, 485/597/632, 505/597/615, 548/490/498, 537/498/907, 525/907/1100, 547/907/1070, 588/498/555, 568/555/613, 600/555/568, 590/568/615, 610/568/615, 720/498/548, 650/548/565, 630/565/645, 668/565/610, 800/548/568, 770/568/595, 737/595/672, 770/595/637, 757/637/672, 785/637/655, 797/655/690, 850/568/617, 828/617/677, 818/677/735, 838/677/688, 860/617/665, 880/617/705, 905/617/640, 900/640/777, 920/640/680, 755/498/528, 1130/528/565, 985/565/595, 942/595/610, 962/595/608, 1085/595/625, 1225/565/612, 1170/612/652, 1190/620/632, 1210/620/630, 1255/612/625, 1275/612/622, 1278/565/585, 1355/585/625, 1318/625/640, 1340/625/638, 1380/625/640, 1400/625/638, 1420/625/640, 1440/625/636}
  \draw (\hx,\hy) -- (\hz,\hy);
\foreach \vx/\vy/\vz in {58/26/311, 470/140/487, 498/62/210, 528/45/80, 548/68/97, 592/90/108, 512/150/275, 530/130/168, 618/150/185, 637/172/200, 688/192/212, 520/245/300, 588/235/255, 548/275/330, 570/305/355, 688/297/317, 618/340/370, 773/360/380, 490/410/560, 617/402/422, 540/455/495, 582/443/465, 597/485/505, 498/537/755, 907/525/547, 555/568/608, 568/590/610, 548/650/800, 565/630/668, 610/650/712, 568/770/850, 595/737/770, 637/757/785, 655/777/797, 617/828/905, 677/818/838, 640/900/920, 528/755/1130, 565/985/1278, 595/942/1105, 602/1085/1150, 612/1170/1275, 620/1190/1225, 585/1278/1355, 625/1298/1465}
  \draw (\vx,\vy) -- (\vx,\vz);
\end{scope}
\begin{scope}[shift={(3860,1250)},xscale=0.3333,yscale=0.8163,pl]
\foreach \hy/\hx/\hz in {175/85/103, 28/103/400, 323/103/398, 115/398/410, 530/398/408, 68/410/422, 50/422/485, 85/422/433, 72/433/503, 94/433/515, 140/410/415, 127/415/463, 117/463/485, 137/463/508, 230/415/428, 158/428/560, 230/428/443, 181/443/762, 280/443/455, 222/455/470, 203/470/560, 245/470/485, 224/485/578, 268/485/508, 245/508/570, 268/508/590, 290/508/585, 335/455/498, 312/498/543, 378/498/515, 342/515/535, 332/535/642, 352/535/597, 385/515/528, 376/528/592, 397/528/697, 430/408/432, 420/432/463, 440/432/463, 495/408/438, 470/438/453, 462/453/480, 484/453/495, 527/438/453, 505/453/527, 548/453/512, 578/408/700, 569/700/977, 590/700/1030, 630/408/420, 680/420/445, 612/445/497, 633/445/483, 655/445/512, 677/445/485, 698/445/467, 720/450/465, 743/465/512, 763/465/480, 760/420/428, 807/428/485, 786/485/502, 806/497/585, 828/485/532, 850/428/482, 872/482/577, 893/482/537, 915/488/557, 937/482/637, 958/497/675, 980/510/718, 945/428/440, 1044/440/455, 1000/455/490, 1022/455/497, 1045/462/497, 1066/462/512, 1088/462/512, 1160/440/452, 1108/452/482, 1130/460/482, 1152/460/488, 1172/460/488, 1195/460/497, 1215/460/497, 1200/440/448, 1238/448/538, 1300/448/455, 1262/455/503, 1282/455/490, 1305/455/515, 1326/455/497, 1345/455/512, 1450/448/462, 1368/462/512, 1390/462/512, 1412/462/512, 1433/462/508, 1455/462/517, 1477/462/520, 1498/462/527, 1520/462/527, 1540/462/527}
  \draw (\hx,\hy) -- (\hz,\hy);
\foreach \vx/\vy/\vz in {103/28/323, 398/115/530, 410/68/140, 422/50/85, 433/72/94, 415/127/230, 463/117/137, 428/158/230, 443/181/280, 455/222/335, 470/203/245, 485/224/268, 508/245/290, 498/312/378, 515/342/397, 535/332/352, 528/376/397, 408/430/630, 432/420/440, 438/470/527, 453/462/484, 453/505/548, 700/569/590, 420/600/760, 445/612/720, 465/720/763, 428/760/945, 485/786/828, 482/850/937, 497/937/958, 510/958/980, 440/945/1200, 455/1000/1088, 452/1108/1215, 448/1200/1450, 455/1262/1345, 462/1368/1540}
  \draw (\vx,\vy) -- (\vx,\vz);
\end{scope}
% scale bars
\draw[pl] (190,2503) -- (236,2503);
\node[scl] (sA1) at (213,2529) {0.002};
\draw[pl] (555,2505) -- (630,2505);
\node[scl] (sA2) at (592,2529) {2.0};
\draw[pl] (2144,2473) -- (2182,2473);
\node[scl] (sB1) at (2163,2503) {0.007};
\draw[pl] (2240,2478) -- (2330,2478);
\node[scl] (sB2) at (2280,2499) {2.0};
\draw[pl] (4086,2511) -- (4126,2511);
\node[scl] (sC1) at (4103,2491) {0.08};
\draw[pl] (4379,2512) -- (4471,2512);
\node[scl] (sC2) at (4426,2492) {2.0};
\end{tikzpicture}
\end{document}
